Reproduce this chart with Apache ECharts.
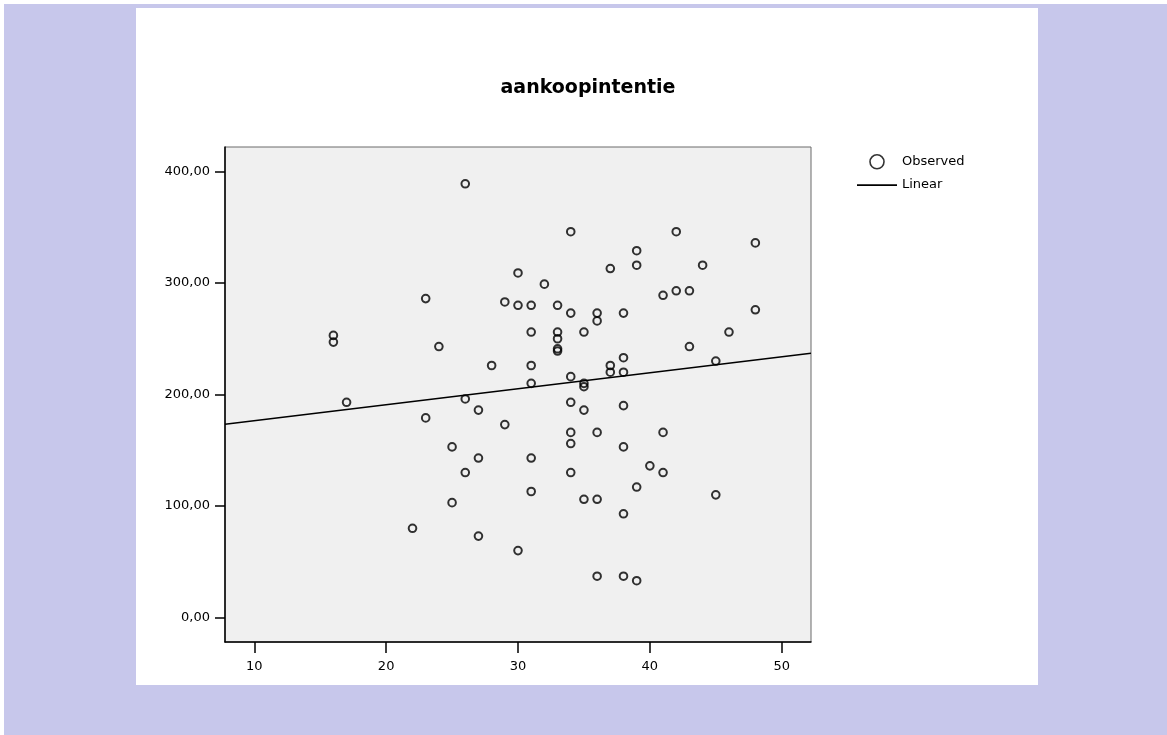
<!DOCTYPE html>
<html>
<head>
<meta charset="utf-8">
<script src="https://cdn.jsdelivr.net/npm/echarts@6/dist/echarts.min.js"></script>
<style>
  html, body { margin: 0; padding: 0; background: #ffffff; }
  body { width: 1167px; height: 735px; position: relative; overflow: hidden; }
  #outer { position: absolute; left: 4px; top: 4px; right: 0; bottom: 0; background: #c7c7eb; }
  #panel { position: absolute; left: 136px; top: 8px; width: 902px; height: 677px; background: #ffffff; }
  #chart { position: absolute; left: 0; top: 0; width: 1167px; height: 735px; }
</style>
</head>
<body>
<div id="outer"></div>
<div id="panel"></div>
<div id="chart"></div>
<script>
// ---- data ----
var titleText = 'aankoopintentie';
var obsX = [16,16,17,22,23,23,24,25,25,26,26,26,27,27,27,28,29,29,30,30,30,
            31,31,31,31,31,31,32,33,33,33,33,33,34,34,34,34,34,34,34,
            35,35,35,35,35,36,36,36,36,36,37,37,37,38,38,38,38,38,38,38,
            39,39,39,39,40,41,41,41,42,42,43,43,44,45,45,46,48,48];
var obsY = [253,247,193,80,286,179,243,153,103,389,196,130,186,143,73,226,283,173,309,280,60,
            280,256,226,210,143,113,299,280,256,250,241,239,346,273,216,193,166,156,130,
            256,210,207,186,106,273,266,166,106,37,313,226,220,273,233,220,190,153,93,37,
            329,316,117,33,136,289,166,130,346,293,293,243,316,230,110,256,336,276];
// linear fit line, read at the plot's left and right edges
var fitX = [7.78, 52.22];
var fitY = [173.4, 237.1];
// axes
var xRange = [7.78, 52.22];
var yRange = [-22, 422];
var xTicks = [10, 20, 30, 40, 50];
var yTicks = [0, 100, 200, 300, 400];
var legendNames = ['Observed', 'Linear'];

var obsData = obsX.map(function (x, i) { return [x, obsY[i]]; });
var fitData = fitX.map(function (x, i) { return [x, fitY[i]]; });

var chart = echarts.init(document.getElementById('chart'), null, { renderer: 'canvas' });
var font = 'DejaVu Sans';
chart.setOption({
  animation: false,
  backgroundColor: 'transparent',
  title: {
    text: titleText,
    left: 583, top: 74,
    textAlign: 'center',
    textStyle: { fontFamily: font, fontWeight: 'bold', fontSize: 19, color: '#000' }
  },
  legend: {
    orient: 'vertical',
    left: 857, top: 154, padding: 0,
    itemWidth: 40, itemHeight: 14, itemGap: 9,
    data: [
      { name: legendNames[0], icon: 'circle',
        itemStyle: { color: 'rgba(0,0,0,0)', borderColor: '#000', borderWidth: 1.6 } },
      { name: legendNames[1], icon: 'path://M0,0 H40 V1.6 H0 Z',
        itemStyle: { color: '#000', borderWidth: 0 } }
    ],
    textStyle: { fontFamily: font, fontSize: 13, color: '#000' }
  },
  grid: {
    left: 225, top: 147, width: 586, height: 495,
    show: true, backgroundColor: '#f0f0f0', borderColor: '#6a6a6a', borderWidth: 1
  },
  xAxis: {
    type: 'value', min: xRange[0], max: xRange[1],
    axisLine: { onZero: false, lineStyle: { color: '#000', width: 1.5 } },
    axisTick: { show: true, length: 11, lineStyle: { color: '#000', width: 1.5 }, customValues: xTicks },
    axisLabel: { margin: 18, fontFamily: font, fontSize: 13, color: '#000', customValues: xTicks },
    splitLine: { show: false }
  },
  yAxis: {
    type: 'value', min: yRange[0], max: yRange[1],
    axisLine: { show: true, onZero: false, lineStyle: { color: '#000', width: 1.5 } },
    axisTick: { show: true, length: 10, lineStyle: { color: '#000', width: 1.5 }, customValues: yTicks },
    axisLabel: {
      margin: 15, fontFamily: font, fontSize: 13, color: '#000', customValues: yTicks,
      formatter: function (v) { return v.toFixed(2).replace('.', ','); }
    },
    splitLine: { show: false }
  },
  series: [
    {
      name: legendNames[0], type: 'scatter', data: obsData,
      symbol: 'circle', symbolSize: 7.6,
      itemStyle: { color: 'rgba(0,0,0,0)', borderColor: '#000', borderWidth: 2 },
      z: 3
    },
    {
      name: legendNames[1], type: 'line', data: fitData,
      symbol: 'none', showSymbol: false,
      lineStyle: { color: '#000', width: 1.5 },
      itemStyle: { color: '#000' },
      z: 2
    }
  ]
});
</script>
</body>
</html>
